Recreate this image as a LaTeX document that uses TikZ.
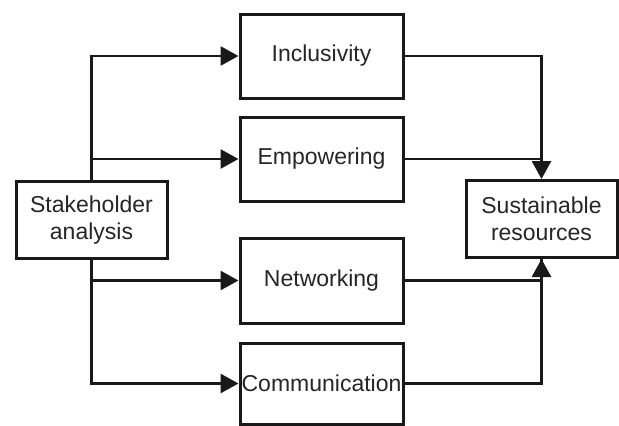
\documentclass[tikz,border=0pt]{standalone}
\usepackage{fontspec}
\setmainfont{Liberation Sans}
\usetikzlibrary{arrows.meta}
\begin{document}
\begin{tikzpicture}[x=1pt,y=-1pt,
  box/.style={draw=black!90, line width=3pt, fill=white, inner sep=0pt, align=center,
    font=\fontsize{23}{27}\selectfont, text=black!85},
  conn/.style={line width=2.8pt, draw=black!90},
  arr/.style={conn, -{Triangle[length=18pt,width=19pt]}}]
\useasboundingbox[fill=white] (0,0) rectangle (619,426);
\node[box, minimum width=163pt, minimum height=84pt] (inc) at (321.5,56) {Inclusivity};
\node[box, minimum width=163pt, minimum height=84pt] (emp) at (321.5,159) {Empowering};
\node[box, minimum width=163pt, minimum height=85pt] (net) at (321.5,280.5) {Networking};
\node[box, minimum width=163pt, minimum height=81pt] (com) at (321.5,383.5) {Communication};
\node[box, minimum width=151pt, minimum height=77pt] (sh) at (91.5,220) {Stakeholder\\analysis};
\node[box, minimum width=151pt, minimum height=77pt] (sus) at (541.5,219) {Sustainable\\resources};
% left side
\draw[arr] (sh.north) |- (inc.west);
\draw[arr] (sh.north |- emp.west) -- (emp.west);
\draw[arr] (sh.south) |- (net.west);
\draw[arr] (sh.south) |- (com.west);
% right side
\draw[arr] (inc.east) -| (sus.north);
\draw[conn] (emp.east) -- (emp.east -| sus.north);
\draw[arr] (net.east) -| (sus.south);
\draw[conn] (com.east) -| (sus.south);
\end{tikzpicture}
\end{document}
